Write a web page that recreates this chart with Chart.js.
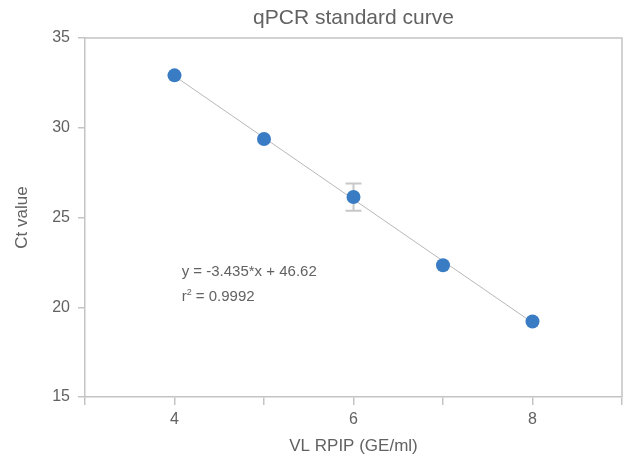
<!DOCTYPE html>
<html>
<head>
<meta charset="utf-8">
<script src="https://cdn.jsdelivr.net/npm/chart.js@4/dist/chart.umd.min.js"></script>
<style>
  html, body { margin: 0; padding: 0; background: #ffffff; }
  #wrap { width: 624px; height: 462px; }
</style>
</head>
<body>
<div id="wrap"><canvas id="c" width="624" height="462"></canvas></div>
<script>
// ---- data ----
const chartTitle = 'qPCR standard curve';
const xTitle = 'VL RPIP (GE/ml)';
const yTitle = 'Ct value';
const xValues = [4, 5, 6, 7, 8];
const ctValues = [32.92, 29.37, 26.14, 22.34, 19.21];
const errLow = [null, null, 25.38, null, null];
const errHigh = [null, null, 26.90, null, null];
const fitX = [4, 8];
const fitY = [32.88, 19.14];
const xTickLabels = [4, 6, 8];
const yTickValues = [15, 20, 25, 30, 35];
const equationLines = ['y = -3.435*x + 46.62', 'r', ' = 0.9992'];

const TEXT = '#626262';
const AXIS = '#c4c4c4';
const FONT = "'Liberation Sans', Arial, Helvetica, sans-serif";

const pointData = xValues.map((x, i) => ({x: x, y: ctValues[i]}));
const fitData = fitX.map((x, i) => ({x: x, y: fitY[i]}));

const extras = {
  id: 'extras',
  afterDraw(chart) {
    const ctx = chart.ctx;
    const a = chart.chartArea;
    const xs = chart.scales.x, ys = chart.scales.y;
    ctx.save();
    // frame top/right
    ctx.strokeStyle = AXIS;
    ctx.lineWidth = 1.5;
    ctx.beginPath();
    ctx.moveTo(a.left, a.top);
    ctx.lineTo(a.right, a.top);
    ctx.lineTo(a.right, a.bottom);
    ctx.stroke();
    // title
    ctx.fillStyle = TEXT;
    ctx.font = '21px ' + FONT;
    ctx.textAlign = 'center';
    ctx.textBaseline = 'middle';
    ctx.fillText(chartTitle, (a.left + a.right) / 2, 18);
    // equation annotation
    ctx.font = '15px ' + FONT;
    ctx.textAlign = 'left';
    const ex = xs.getPixelForValue(4.08);
    const ey1 = ys.getPixelForValue(21.96);
    const ey2 = ys.getPixelForValue(20.57);
    ctx.fillText(equationLines[0], ex, ey1);
    ctx.fillText(equationLines[1], ex, ey2);
    const rw = ctx.measureText(equationLines[1]).width;
    ctx.font = '9px ' + FONT;
    ctx.fillText('2', ex + rw, ey2 - 5);
    const sw = ctx.measureText('2').width;
    ctx.font = '15px ' + FONT;
    ctx.fillText(equationLines[2], ex + rw + sw, ey2);
    ctx.restore();
  },
  beforeDatasetsDraw(chart) {
    // error bars
    const ctx = chart.ctx;
    const xs = chart.scales.x, ys = chart.scales.y;
    ctx.save();
    ctx.strokeStyle = '#c8c8c8';
    ctx.lineWidth = 2;
    xValues.forEach((x, i) => {
      if (errLow[i] == null) return;
      const px = xs.getPixelForValue(x);
      const pLo = ys.getPixelForValue(errLow[i]);
      const pHi = ys.getPixelForValue(errHigh[i]);
      ctx.beginPath();
      ctx.moveTo(px, pLo); ctx.lineTo(px, pHi);
      ctx.moveTo(px - 8, pLo); ctx.lineTo(px + 8, pLo);
      ctx.moveTo(px - 8, pHi); ctx.lineTo(px + 8, pHi);
      ctx.stroke();
    });
    ctx.restore();
  }
};

new Chart(document.getElementById('c'), {
  type: 'scatter',
  data: {
    datasets: [
      {
        type: 'line',
        data: fitData,
        borderColor: '#b8b8b8',
        borderWidth: 1,
        pointRadius: 0,
        fill: false,
        order: 2
      },
      {
        data: pointData,
        backgroundColor: '#3a7cc3',
        borderColor: '#3a7cc3',
        pointRadius: 7,
        pointHoverRadius: 7,
        borderWidth: 0,
        order: 1
      }
    ]
  },
  options: {
    responsive: false,
    animation: false,
    events: [],
    layout: { autoPadding: false, padding: { top: 38, right: 2, left: 0, bottom: 0 } },
    plugins: {
      legend: { display: false },
      tooltip: { enabled: false },
      title: { display: false }
    },
    scales: {
      x: {
        type: 'linear',
        min: 3,
        max: 9,
        afterFit(s) { s.height = 65; s.paddingLeft = 0; s.paddingRight = 0; },
        border: { display: true, color: AXIS, width: 1.5 },
        grid: { drawOnChartArea: false, tickLength: 8, color: AXIS, lineWidth: 1.5 },
        ticks: {
          stepSize: 1,
          padding: 5,
          color: TEXT,
          font: { family: FONT, size: 16 },
          maxRotation: 0,
          autoSkip: false,
          callback: (v) => xTickLabels.includes(v) ? String(v) : ''
        },
        title: {
          display: true,
          text: xTitle,
          color: TEXT,
          font: { family: FONT, size: 17 },
          padding: { top: 0, bottom: 5 }
        }
      },
      y: {
        type: 'linear',
        min: 15,
        max: 35,
        afterFit(s) { s.width = 85; },
        afterBuildTicks(s) { s.ticks = yTickValues.map(v => ({value: v})); },
        border: { display: true, color: AXIS, width: 1.5 },
        grid: { drawOnChartArea: false, tickLength: 7, color: AXIS, lineWidth: 1.5 },
        ticks: {
          padding: 8,
          color: TEXT,
          font: { family: FONT, size: 16 }
        },
        title: {
          display: true,
          text: yTitle,
          color: TEXT,
          font: { family: FONT, size: 17 },
          padding: { top: 12, bottom: 0 }
        }
      }
    }
  },
  plugins: [extras]
});
</script>
</body>
</html>
